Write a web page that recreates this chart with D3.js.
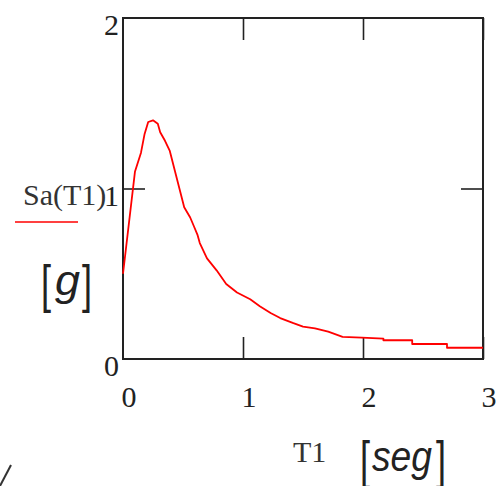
<!DOCTYPE html>
<html>
<head>
<meta charset="utf-8">
<script src="https://cdn.jsdelivr.net/npm/d3@7"></script>
<style>
  body { margin: 0; background: #fff; }
  svg { display: block; }
</style>
</head>
<body>
<svg id="chart" width="500" height="486"></svg>
<script>
// spectrum
const periods = [0, 0.10, 0.15, 0.18, 0.21, 0.25, 0.29, 0.31, 0.35, 0.39, 0.43, 0.47, 0.51, 0.56,
  0.59, 0.62, 0.64, 0.70, 0.78, 0.86, 0.95, 1.06, 1.14, 1.23, 1.31, 1.42, 1.50, 1.60, 1.71, 1.83,
  1.99, 2.17, 2.17, 2.41, 2.41, 2.70, 2.70, 3.0]
const sa = [0.50, 1.10, 1.21, 1.32, 1.39, 1.40, 1.38, 1.33, 1.28, 1.22, 1.11, 1.00, 0.89, 0.83,
  0.78, 0.73, 0.68, 0.59, 0.52, 0.44, 0.39, 0.35, 0.31, 0.27, 0.24, 0.21, 0.19, 0.18, 0.16, 0.13,
  0.125, 0.12, 0.11, 0.11, 0.088, 0.088, 0.066, 0.066]

const xTicks = [0, 1, 2, 3]
const yTicks = [0, 1, 2]

const svg = d3.select("#chart")
const x = d3.scaleLinear([0, 3], [123, 483])
const y = d3.scaleLinear([0, 2], [359, 18])

const ink = "#222"
const serif = "'Liberation Serif', 'Times New Roman', serif"
const sans = "'Liberation Sans', Arial, sans-serif"

// inward ticks on all four sides
const tick = 22
const styleAxis = g => {
  g.select(".domain").remove()
  g.selectAll(".tick line").attr("stroke", ink).attr("stroke-width", 1.6)
}
svg.append("g").attr("transform", `translate(0,${y(0)})`)
  .call(d3.axisBottom(x).tickValues([1, 2, 3]).tickSize(-tick).tickFormat(""))
  .call(styleAxis)
svg.append("g").attr("transform", `translate(0,${y(2)})`)
  .call(d3.axisTop(x).tickValues([1, 2, 3]).tickSize(-tick).tickFormat(""))
  .call(styleAxis)
svg.append("g").attr("transform", `translate(${x(0)},0)`)
  .call(d3.axisLeft(y).tickValues([1]).tickSize(-tick).tickFormat(""))
  .call(styleAxis)
svg.append("g").attr("transform", `translate(${x(3)},0)`)
  .call(d3.axisRight(y).tickValues([1]).tickSize(-tick).tickFormat(""))
  .call(styleAxis)

// frame
svg.append("rect")
  .attr("x", x(0)).attr("y", y(2))
  .attr("width", x(3) - x(0)).attr("height", y(0) - y(2))
  .attr("fill", "none").attr("stroke", ink).attr("stroke-width", 2)

// the curve
const pts = periods.map((t, i) => [t, sa[i]])
svg.append("path")
  .datum(pts)
  .attr("fill", "none")
  .attr("stroke", "#ff0000")
  .attr("stroke-width", 1.8)
  .attr("stroke-linejoin", "round")
  .attr("d", d3.line().x(d => x(d[0])).y(d => y(d[1])))

// tick labels
svg.append("g").selectAll("text").data(xTicks).join("text")
  .attr("x", d => x(d) + 6).attr("y", 407)
  .attr("text-anchor", "middle")
  .attr("font-family", serif).attr("font-size", 30).attr("fill", ink)
  .text(d => d)
svg.append("g").selectAll("text").data(yTicks).join("text")
  .attr("x", 119).attr("y", d => y(d) + 17)
  .attr("text-anchor", "end")
  .attr("font-family", serif).attr("font-size", 30).attr("fill", ink)
  .text(d => d)

// y title
svg.append("text")
  .attr("x", 23).attr("y", 205)
  .attr("font-family", serif).attr("font-size", 30).attr("fill", "#333")
  .text("Sa(T1)")
svg.append("line")
  .attr("x1", 15).attr("x2", 78).attr("y1", 222).attr("y2", 222)
  .attr("stroke", "#ff0000").attr("stroke-width", 1.6)

// unit brackets
const unit = (x0, x1, base, word, wordX, wordW) => {
  const g = svg.append("g").attr("font-family", sans).attr("fill", ink)
  g.append("text").attr("transform", `translate(${x0},${base}) scale(1,1.45)`)
    .attr("font-size", 36).text("[")
  g.append("text").attr("transform", `translate(${x1},${base}) scale(1,1.45)`)
    .attr("font-size", 36).attr("text-anchor", "end").text("]")
  g.append("text").attr("x", wordX).attr("y", base - 7)
    .attr("font-size", 42).attr("font-style", "italic")
    .attr("textLength", wordW).attr("lengthAdjust", "spacingAndGlyphs")
    .text(word)
}
unit(41, 92, 302, "g", 55, 25)

svg.append("text")
  .attr("x", 293).attr("y", 462)
  .attr("font-family", serif).attr("font-size", 30).attr("fill", "#333")
  .text("T1")
unit(360, 446, 478, "seg", 372, 60)

// stray stroke at the lower left
svg.append("line")
  .attr("x1", 11).attr("y1", 465).attr("x2", 0).attr("y2", 486)
  .attr("stroke", "#333").attr("stroke-width", 2)
</script>
</body>
</html>
